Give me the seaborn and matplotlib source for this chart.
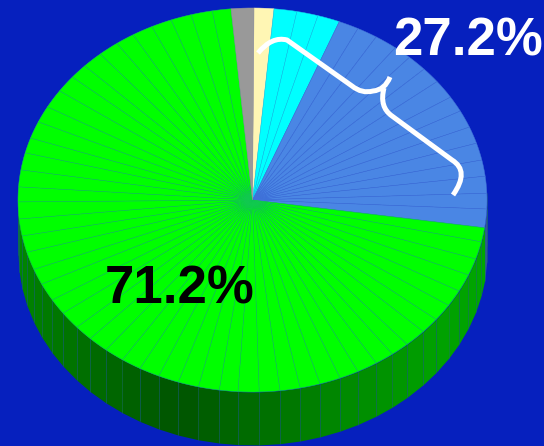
import numpy as np
import seaborn as sns
import matplotlib.pyplot as plt
from matplotlib.path import Path
from matplotlib.patches import PathPatch
from matplotlib.transforms import Affine2D

# share of each slice in percent, clockwise from the top
cream_vals = [1.36]
cyan_vals = [1.57, 1.47, 1.53]
blue_vals = [1.39, 1.42, 1.58, 1.25, 1.39, 1.36, 1.58, 1.33, 1.47, 1.42, 1.44, 1.36, 1.42, 1.31, 1.56]
green_vals = [1.19, 1.47, 1.42, 1.47, 1.39, 1.44, 1.33, 1.53, 1.28, 1.33, 1.42, 1.33, 1.44,
              1.39, 1.39, 1.42, 1.44, 1.28, 1.44, 1.42, 1.42, 1.42, 1.39, 1.39, 1.42, 1.31,
              1.50, 1.31, 1.50, 1.33, 1.50, 1.39, 1.42, 1.42, 1.25, 1.42, 1.44, 1.28, 1.44,
              1.39, 1.56, 1.44, 1.25, 1.44, 1.44, 1.31, 1.44, 1.42, 1.42, 1.47, 1.29]
gray_vals = [1.56]
big_label = '71.2%'
small_label = '27.2%'

BG = '#0620BE'
groups = [(cream_vals, '#FFF6B4', '#FFF6B4'), (cyan_vals, '#00FFFF', '#18C8E8'),
          (blue_vals, '#4A86E4', '#3F70D8'), (green_vals, '#00FF00', '#14C45A'),
          (gray_vals, '#999999', '#999999')]

sns.set_theme(style='white')
plt.rcParams['font.family'] = ['Liberation Sans', 'DejaVu Sans']

values = []
colors = []
line_cols = []
for vals, col, line in groups:
    values += vals
    colors += [col] * len(vals)
    line_cols += [line] * len(vals)
values = np.array(values)

fig = plt.figure(figsize=(5.44, 4.46), dpi=100, facecolor=BG)
ax = fig.add_axes([0, 0, 1, 1])
pixels = Affine2D().scale(1, -1).translate(0, 446)

start = 0.37
edges = start + np.concatenate([[0], np.cumsum(values)]) / values.sum() * 360
depth = 53 / 192

# side wall, darkest just left of the bottom
shade_at = [90, 130, 160, 178, 183, 198, 230, 270]
shade_val = [.66, .63, .53, .43, .41, .33, .45, .55]
for i, col in enumerate(colors):
    a0, a1 = np.radians(edges[i:i + 2])
    if np.cos((a0 + a1) / 2) > 0.05:
        continue
    shade = np.interp(np.degrees((a0 + a1) / 2), shade_at, shade_val)
    rgb = np.array(sns.desaturate(col, 1)) * shade
    x = np.sin([a0, a1])
    y = np.cos([a0, a1])
    ax.fill_between(x, y, y - depth, color=rgb, lw=0, zorder=1)
    ax.plot([x[0], x[0]], [y[0], y[0] - depth], color='#1F6F70', lw=0.4, alpha=0.7, zorder=1.5)

wedges, _ = ax.pie(values, colors=colors, startangle=90 - start, counterclock=False, radius=1,
                   wedgeprops={'linewidth': 0.35})
for w, line in zip(wedges, line_cols):
    w.set_edgecolor(line)
    w.set_zorder(2)
ax.set_aspect('auto')
ax.set_xlim(-252.5 / 234.5, (544 - 252.5) / 234.5)
ax.set_ylim((200 - 446) / 192, 200 / 192)

# curly bracket over the 27.2% part
codes = [Path.MOVETO, Path.CURVE3, Path.CURVE3, Path.LINETO, Path.CURVE3, Path.CURVE3,
         Path.CURVE3, Path.CURVE3, Path.MOVETO, Path.CURVE3, Path.CURVE3, Path.LINETO,
         Path.CURVE3, Path.CURVE3]
verts = [(258, 53), (272, 36), (287, 40), (352, 86), (362, 94), (373, 91), (385, 90), (390, 77),
         (384, 88), (379, 107), (392, 116), (452, 160), (470, 171), (453, 195)]
ax.add_patch(PathPatch(Path(verts, codes), fc='none', ec='white', lw=3.6, capstyle='butt',
                       transform=pixels, zorder=4, clip_on=False))

ax.text(393, 55, small_label, color='white', fontsize=38, fontweight='bold', va='baseline',
        transform=pixels, zorder=5)
ax.text(105, 304, big_label, color='black', fontsize=38, fontweight='bold', va='baseline',
        transform=pixels, zorder=5)

fig.savefig('out.png', dpi=100, facecolor=BG)
